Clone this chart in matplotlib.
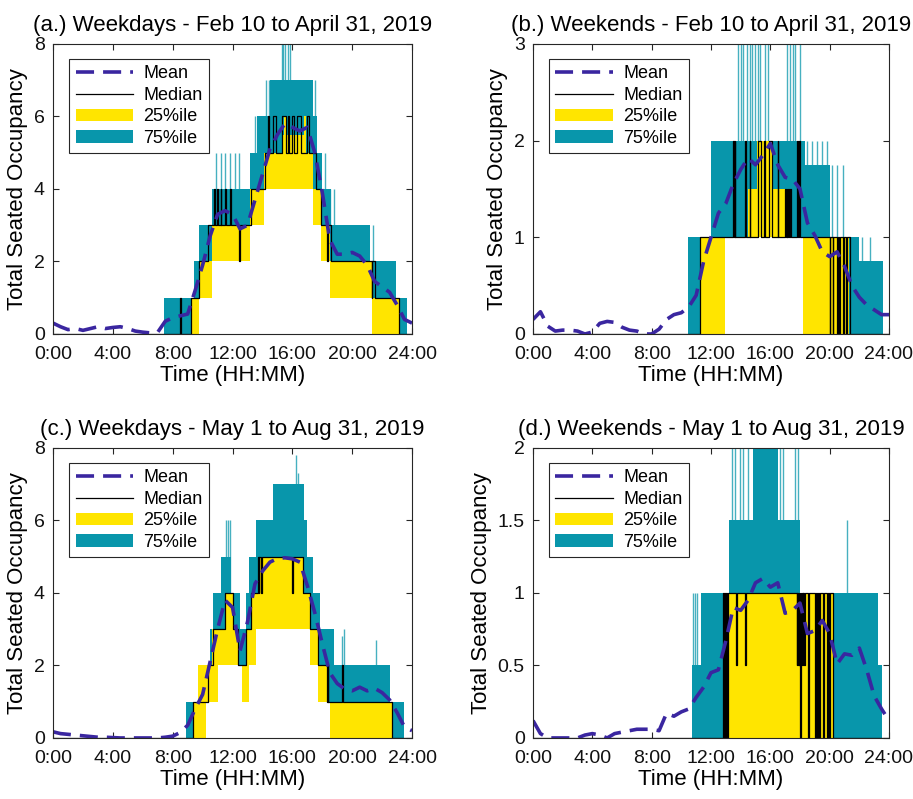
import numpy as np
import matplotlib
matplotlib.use('Agg')
import matplotlib.pyplot as plt
from matplotlib.lines import Line2D
from matplotlib.patches import Patch

plt.rcParams['font.family'] = ['Liberation Sans', 'DejaVu Sans']

TEAL = '#0896AB'
YELLOW = '#FFE500'
BLUE = '#3A26A0'

# time of day (hours) for the mean curves, every 30 min
t_half = np.arange(0, 24.5, 0.5)
hour_ticks = [0, 4, 8, 12, 16, 20, 24]
hour_labels = ['0:00', '4:00', '8:00', '12:00', '16:00', '20:00', '24:00']

titles = ['(a.) Weekdays - Feb 10 to April 31, 2019',
          '(b.) Weekends - Feb 10 to April 31, 2019',
          '(c.) Weekdays - May 1 to Aug 31, 2019',
          '(d.) Weekends - May 1 to Aug 31, 2019']

# ---- (a) weekdays feb-apr ----
mean_a = [0.3, 0.2, 0.12, 0.15, 0.1, 0.15, 0.2, 0.15, 0.18, 0.2, 0.15, 0.08,
          0.05, 0.03, 0.05, 0.35, 0.45, 0.5, 0.55, 1.2, 1.9, 2.7, 3.3, 3.4,
          3.3, 2.9, 3.0, 3.7, 4.4, 5.1, 5.5, 5.8, 5.7, 5.6, 5.7, 5.0, 3.9,
          2.6, 2.2, 2.2, 2.25, 2.15, 1.9, 1.45, 1.3, 1.15, 0.8, 0.4, 0.3]
q75_a = [(0, 0), (7.45, 1), (9.41, 2), (9.75, 3), (10.6, 4), (13.15, 5), (13.64, 6),
         (14.5, 7), (17.41, 6), (17.63, 5), (17.97, 4), (18.6, 3), (21.2, 2),
         (22.9, 1), (23.65, 0), (24, 0)]
q25_a = [(0, 0), (9.3, 1), (9.75, 2), (10.6, 3), (13.15, 4), (14.1, 5), (15.3, 5.5),
         (15.45, 6), (15.55, 5.5), (16.8, 6), (16.9, 5), (17.4, 4), (17.9, 3),
         (18.5, 2), (21.3, 1), (23.1, 0), (24, 0)]
low_a = [(0, 0), (9.75, 1), (10.6, 2), (13.15, 3), (14.1, 4), (17.4, 3), (17.9, 2),
         (18.5, 1), (21.3, 0), (24, 0)]
med_a = [(0, 0), (8.5, 1), (8.56, 0), (9.23, 1), (9.75, 2), (10.35, 3), (10.75, 4),
         (10.8, 3), (10.95, 4), (11.0, 3), (11.2, 4), (11.25, 3), (11.5, 4),
         (11.55, 3), (11.85, 4), (11.9, 3), (12.42, 2), (12.47, 3), (13.25, 4),
         (14.16, 5), (14.4, 6), (14.45, 5), (14.7, 6), (14.9, 5), (15.3, 6),
         (15.55, 5), (15.7, 6), (15.8, 5), (16.0, 6), (16.1, 5), (16.3, 6),
         (16.6, 5), (17.0, 6), (17.1, 5), (17.55, 4), (17.9, 3), (18.3, 2),
         (18.35, 3), (18.6, 2), (21.3, 1), (21.35, 2), (21.5, 1), (23.1, 0), (24, 0)]
spk_a = [(10.91, 5), (11.25, 5), (11.47, 5), (11.81, 5), (12.14, 5), (12.43, 5),
         (13.5, 6), (14.23, 7), (14.45, 7), (15.28, 8), (15.4, 8), (15.5, 8),
         (15.7, 8), (15.84, 8), (17.5, 7), (18.15, 5), (18.5, 4), (18.75, 4), (21.4, 3)]

# ---- (b) weekends feb-apr ----
mean_b = [0.15, 0.23, 0.08, 0.03, 0.04, 0.04, 0.03, 0.0, 0.02, 0.11, 0.13, 0.12,
          0.07, 0.04, 0.03, 0.0, 0.0, 0.05, 0.15, 0.2, 0.22, 0.28, 0.4, 0.75,
          1.0, 1.25, 1.35, 1.55, 1.7, 1.82, 1.75, 1.85, 1.97, 1.75, 1.62, 1.6,
          1.5, 1.15, 1.02, 0.85, 0.8, 0.85, 0.7, 0.5, 0.38, 0.3, 0.25, 0.2, 0.2]
q75_b = [(0, 0), (10.45, 1), (12.0, 2), (18.35, 1.75), (20.0, 1), (22.0, 0.75),
         (23.6, 0), (24, 0)]
q25_b = [(0, 0), (11.27, 1), (14.5, 1.5), (15.1, 2), (16.2, 1.5), (17.0, 1),
         (21.3, 0), (24, 0)]
low_b = [(0, 0), (12.95, 1), (18.2, 0), (24, 0)]
med_b = [(0, 0), (11.27, 1), (13.5, 2), (13.55, 1), (13.6, 2), (13.65, 1), (14.3, 2),
         (14.35, 1), (14.6, 2), (14.65, 1), (15.2, 2), (15.4, 1), (15.6, 2),
         (15.65, 1), (15.9, 2), (16.1, 1), (16.5, 2), (16.55, 1), (17.0, 1.5),
         (17.05, 1), (17.1, 1.5), (17.15, 1), (17.2, 1.5), (17.25, 1), (17.3, 1.5),
         (17.4, 1), (17.8, 2), (17.85, 1), (17.95, 2), (18.0, 1), (20.0, 0),
         (20.05, 1), (20.2, 0), (20.25, 1), (20.5, 0), (20.55, 1), (20.65, 0),
         (20.7, 1), (20.9, 0), (20.95, 1), (21.1, 0), (21.15, 1), (21.4, 0), (24, 0)]
spk_b = [(13.85, 3), (14.0, 3), (14.18, 3), (14.41, 3), (14.6, 3), (14.75, 3),
         (14.97, 3), (15.15, 3), (15.31, 3), (15.64, 3), (15.87, 3), (17.1, 3),
         (17.33, 3), (17.5, 3), (17.66, 3), (17.99, 3), (18.45, 2), (18.79, 2),
         (19.12, 2), (19.46, 2), (19.8, 2), (20.13, 1.75), (20.47, 1.75),
         (20.92, 1.75), (21.6, 1), (22.2, 1), (22.7, 1)]

# ---- (c) weekdays may-aug ----
mean_c = [0.17, 0.12, 0.1, 0.08, 0.06, 0.04, 0.02, 0.02, 0.01, 0.0, 0.0, 0.0,
          0.0, 0.0, 0.0, 0.02, 0.05, 0.15, 0.35, 0.8, 1.2, 2.1, 3.0, 3.8,
          3.6, 2.4, 3.2, 4.25, 4.6, 4.85, 4.95, 4.97, 4.94, 4.85, 4.2, 3.45,
          2.6, 1.8, 1.5, 1.35, 1.3, 1.4, 1.3, 1.37, 1.25, 1.05, 0.7, 0.3, 0.2]
q75_c = [(0, 0), (8.9, 1), (9.75, 2), (10.46, 3), (10.69, 4), (11.25, 5), (11.92, 4),
         (12.48, 3), (12.93, 4), (13.07, 5), (13.6, 6), (14.72, 7), (16.75, 6),
         (16.96, 5), (17.4, 4), (17.86, 3), (18.75, 2), (22.56, 1), (23.45, 0), (24, 0)]
q25_c = [(0, 0), (9.34, 1), (9.68, 2), (10.6, 3), (11.47, 4), (12.03, 3), (12.37, 2),
         (12.93, 3), (13.22, 4), (13.85, 5), (16.74, 4), (17.18, 3), (17.74, 2),
         (18.3, 1), (22.67, 0), (24, 0)]
low_c = [(0, 0), (10.24, 1), (11.0, 2), (12.6, 1), (13.07, 2), (13.6, 3), (17.18, 2),
         (17.74, 1), (18.53, 0), (24, 0)]
med_c = [(0, 0), (9.34, 1), (10.35, 2), (10.69, 3), (11.47, 4), (12.03, 3), (12.37, 2),
         (12.93, 3), (13.22, 4), (13.71, 5), (13.76, 4), (13.8, 5), (13.9, 4),
         (13.95, 5), (15.95, 4), (16.02, 5), (16.74, 4), (17.18, 3), (17.74, 2),
         (18.3, 1), (18.35, 2), (18.4, 1), (19.35, 2), (19.4, 1), (22.67, 0), (24, 0)]
spk_c = [(11.58, 6), (11.7, 6), (11.8, 6), (14.2, 6), (16.25, 7.8), (16.4, 7.3),
         (19.3, 2.8), (19.43, 3), (21.6, 2.7)]

# ---- (d) weekends may-aug ----
mean_d = [0.12, 0.03, 0.0, 0.0, 0.0, 0.0, 0.0, 0.02, 0.03, 0.02, 0.0, 0.03,
          0.04, 0.05, 0.06, 0.06, 0.06, 0.05, 0.17, 0.15, 0.18, 0.2, 0.28, 0.35,
          0.45, 0.47, 0.67, 0.9, 0.88, 0.95, 1.07, 1.1, 1.04, 1.07, 0.86, 0.88,
          0.93, 0.72, 0.74, 0.81, 0.72, 0.51, 0.58, 0.57, 0.62, 0.47, 0.29, 0.2, 0.12]
q75_d = [(0, 0), (10.75, 0.5), (11.3, 1), (13.24, 1.5), (14.86, 2), (16.54, 1.5),
         (18.0, 1), (23.28, 0.5), (23.5, 0), (24, 0)]
q25_d = [(0, 0), (12.9, 1), (20.25, 0), (24, 0)]
low_d = [(0, 0), (24, 0)]
med_d = [(0, 0), (12.84, 1), (12.88, 0), (12.95, 1), (13.0, 0), (13.05, 1), (13.1, 0),
         (13.15, 1), (13.7, 0.5), (13.73, 1), (14.3, 0.5), (14.33, 1), (17.78, 0.5),
         (17.82, 1), (17.86, 0.5), (17.9, 1), (17.94, 0.5), (17.98, 1), (18.02, 0),
         (18.06, 1), (18.1, 0.5), (18.14, 1), (18.18, 0.5), (18.22, 1), (18.26, 0.5),
         (18.34, 1), (18.56, 0), (18.6, 1), (19.0, 0), (19.06, 1), (19.12, 0),
         (19.2, 1), (19.3, 0), (19.35, 1), (19.55, 0), (19.6, 1), (19.85, 0),
         (19.9, 1), (19.95, 0), (20.05, 1), (20.2, 0), (24, 0)]
spk_d = [(10.8, 1), (10.9, 1), (11.05, 1), (13.4, 2), (13.62, 2), (13.96, 2),
         (14.18, 2), (14.52, 2), (16.65, 2), (16.88, 2), (17.0, 1.5), (17.66, 2),
         (17.89, 2), (21.14, 1.5)]


def split(pairs):
    return np.array([p[0] for p in pairs]), np.array([p[1] for p in pairs])


panels = [
    (mean_a, q75_a, q25_a, low_a, med_a, spk_a, 8, [0, 2, 4, 6, 8], ['0', '2', '4', '6', '8']),
    (mean_b, q75_b, q25_b, low_b, med_b, spk_b, 3, [0, 1, 2, 3], ['0', '1', '2', '3']),
    (mean_c, q75_c, q25_c, low_c, med_c, spk_c, 8, [0, 2, 4, 6, 8], ['0', '2', '4', '6', '8']),
    (mean_d, q75_d, q25_d, low_d, med_d, spk_d, 2, [0, 0.5, 1, 1.5, 2], ['0', '0.5', '1', '1.5', '2']),
]

boxes = [[0.0581, 0.5820, 0.3932, 0.3630],
         [0.5838, 0.5820, 0.3899, 0.3630],
         [0.0581, 0.0764, 0.3932, 0.3630],
         [0.5838, 0.0764, 0.3899, 0.3630]]

fig = plt.figure(figsize=(9.13, 7.99), dpi=100)

for k, (mean, q75, q25, low, med, spk, ytop, yt, ytl) in enumerate(panels):
    ax = fig.add_axes(boxes[k])

    t, v = split(q75)
    ax.fill_between(t, 0, v, step='post', color=TEAL, lw=0, zorder=2.0)
    st, sv = split(spk)
    ax.vlines(st, 0, sv, color=TEAL, lw=1.0, alpha=0.75, zorder=2.0)
    t, v = split(q25)
    ax.fill_between(t, 0, v, step='post', color=YELLOW, lw=0, zorder=2.1)
    t, v = split(low)
    ax.fill_between(t, 0, v, step='post', color='white', lw=0, zorder=2.2)
    t, v = split(med)
    ax.step(t, v, where='post', color='black', lw=0.9, zorder=2.3)
    ax.plot(t_half, mean, color=BLUE, lw=2.6, dashes=(5, 2.5), zorder=2.4)

    ax.set_xlim(0, 24)
    ax.set_ylim(0, ytop)
    ax.set_xticks(hour_ticks)
    ax.set_xticklabels(hour_labels)
    ax.set_yticks(yt)
    ax.set_yticklabels(ytl)
    ax.tick_params(direction='in', length=4, width=0.8, labelsize=14,
                   top=True, right=True, colors='#262626', labelcolor='#111111')
    ax.tick_params(axis='x', pad=9)
    ax.tick_params(axis='y', pad=6)
    for s in ax.spines.values():
        s.set_color('#262626')
        s.set_linewidth(0.8)
    ax.set_title(titles[k], fontsize=16, pad=9)
    ax.set_xlabel('Time (HH:MM)', fontsize=16, labelpad=1)
    ax.set_ylabel('Total Seated Occupancy', fontsize=16, labelpad=4)

    handles = [Line2D([0], [0], color=BLUE, lw=2.6, dashes=(5, 2.5)),
               Line2D([0], [0], color='black', lw=0.9),
               Patch(facecolor=YELLOW, edgecolor='none'),
               Patch(facecolor=TEAL, edgecolor='none')]
    leg = ax.legend(handles, ['Mean', 'Median', '25%ile', '75%ile'],
                    loc='upper left', bbox_to_anchor=(0.045, 0.948), borderaxespad=0,
                    fontsize=13, handlelength=3.2, handletextpad=0.55, labelspacing=0.25,
                    borderpad=0.35, fancybox=False, framealpha=1, edgecolor='#262626')
    leg.get_frame().set_linewidth(0.8)
    leg.set_zorder(5)

fig.savefig('out.png', dpi=100)
